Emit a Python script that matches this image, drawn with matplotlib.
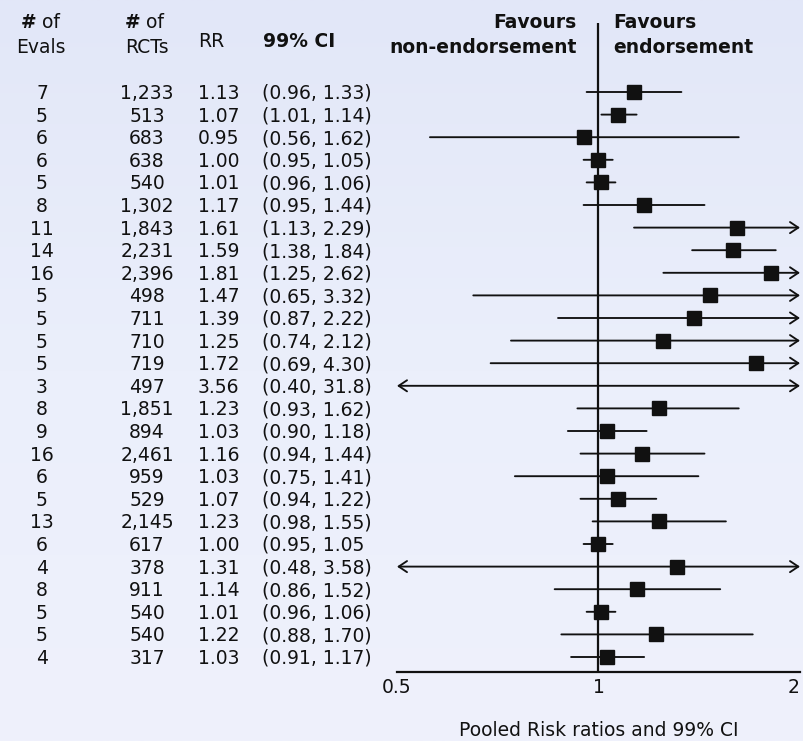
import numpy as np
import matplotlib
matplotlib.use('Agg')
import matplotlib.pyplot as plt
from matplotlib import transforms
from matplotlib.colors import LinearSegmentedColormap
from matplotlib.ticker import NullLocator

# one row per pooled comparison, top to bottom
evals = [7, 5, 6, 6, 5, 8, 11, 14, 16, 5, 5, 5, 5, 3, 8, 9, 16, 6, 5, 13, 6, 4, 8, 5, 5, 4]
rcts = [1233, 513, 683, 638, 540, 1302, 1843, 2231, 2396, 498, 711, 710, 719, 497,
        1851, 894, 2461, 959, 529, 2145, 617, 378, 911, 540, 540, 317]
rr = [1.13, 1.07, 0.95, 1.00, 1.01, 1.17, 1.61, 1.59, 1.81, 1.47, 1.39, 1.25, 1.72, 3.56,
      1.23, 1.03, 1.16, 1.03, 1.07, 1.23, 1.00, 1.31, 1.14, 1.01, 1.22, 1.03]
ci_lo = [0.96, 1.01, 0.56, 0.95, 0.96, 0.95, 1.13, 1.38, 1.25, 0.65, 0.87, 0.74, 0.69, 0.40,
         0.93, 0.90, 0.94, 0.75, 0.94, 0.98, 0.95, 0.48, 0.86, 0.96, 0.88, 0.91]
ci_hi = [1.33, 1.14, 1.62, 1.05, 1.06, 1.44, 2.29, 1.84, 2.62, 3.32, 2.22, 2.12, 4.30, 31.8,
         1.62, 1.18, 1.44, 1.41, 1.22, 1.55, 1.05, 3.58, 1.52, 1.06, 1.70, 1.17]
x_ticks = [0.5, 1, 2]
x_tick_labels = ['0.5', '1', '2']

X_MIN, X_MAX = 0.5, 2
ink = '#111111'
fs = 13.5


def fmt(v):
    return f'{v:.2f}' if v < 10 else f'{v:.1f}'


ci_labels = [f'({fmt(a)}, {fmt(b)})' for a, b in zip(ci_lo, ci_hi)]
ci_labels[20] = ci_labels[20].rstrip(')')  # the source leaves this one open

W, H = 804, 741
fig = plt.figure(figsize=(W / 100, H / 100), dpi=100)

# pale blue gradient background
bg = fig.add_axes([0, 0, 1, 1])
bg_cmap = LinearSegmentedColormap.from_list('bg', ['#e2e7f8', '#ebeffb', '#eff1fc'])
bg.imshow(np.linspace(0, 1, 256).reshape(-1, 1), aspect='auto', cmap=bg_cmap, extent=(0, 1, 0, 1))
bg.set_axis_off()

# forest plot area
row_h = 22.6
ax = fig.add_axes([397 / W, 1 - 672 / H, 403 / W, 649 / H])
ax.set_facecolor('none')
ax.set_xscale('log')
ax.set_xlim(X_MIN, X_MAX)
ax.set_ylim(len(rr) - 1 + 15 / row_h, -69 / row_h)

for i, (lo, hi) in enumerate(zip(ci_lo, ci_hi)):
    a, b = max(lo, X_MIN), min(hi, X_MAX)
    head = {(False, False): '-', (True, False): '<-', (False, True): '->', (True, True): '<->'}[(lo < X_MIN, hi > X_MAX)]
    style = head if head == '-' else head + ',head_length=0.6,head_width=0.4'
    ax.annotate('', xy=(b, i), xytext=(a, i),
                arrowprops=dict(arrowstyle=style, lw=1.35, color=ink, shrinkA=0, shrinkB=0,
                                mutation_scale=10),
                annotation_clip=False)

ax.plot(rr, range(len(rr)), 's', ms=9.5, color=ink, zorder=3)
ax.axvline(1, color=ink, lw=1.6, zorder=2)

for side in ['top', 'left', 'right']:
    ax.spines[side].set_visible(False)
ax.spines['bottom'].set_linewidth(1.6)
ax.spines['bottom'].set_color(ink)
ax.set_xticks(x_ticks)
ax.set_xticklabels(x_tick_labels)
ax.xaxis.set_minor_locator(NullLocator())
ax.tick_params(axis='x', length=0, pad=4, labelsize=fs, labelcolor=ink)
ax.get_xticklabels()[-1].set_ha('right')
ax.set_yticks([])
ax.set_xlabel('Pooled Risk ratios and 99% CI', fontsize=fs, color=ink, va='baseline')
ax.xaxis.set_label_coords(0.5, -64 / 649)

# text columns, row positions come from the forest axes
row_tr = transforms.offset_copy(transforms.blended_transform_factory(fig.transFigure, ax.transData),
                                fig=fig, y=-7, units='dots')
for i in range(len(rr)):
    ax.text(42 / W, i, str(evals[i]), transform=row_tr, ha='center', va='baseline', fontsize=fs, color=ink)
    ax.text(147 / W, i, f'{rcts[i]:,}', transform=row_tr, ha='center', va='baseline', fontsize=fs, color=ink)
    ax.text(198 / W, i, f'{rr[i]:.2f}', transform=row_tr, ha='left', va='baseline', fontsize=fs, color=ink)
    ax.text(262 / W, i, ci_labels[i], transform=row_tr, ha='left', va='baseline', fontsize=fs, color=ink)


def fy(px):
    return 1 - px / H


# headers
for split in [36, 140]:
    fig.text(split / W, fy(28), '#', ha='right', va='baseline', fontsize=fs, weight='bold', color=ink)
    fig.text(split / W, fy(28), ' of', ha='left', va='baseline', fontsize=fs, color=ink)
fig.text(41 / W, fy(53), 'Evals', ha='center', va='baseline', fontsize=fs, color=ink)
fig.text(147 / W, fy(53), 'RCTs', ha='center', va='baseline', fontsize=fs, color=ink)
fig.text(198 / W, fy(47), 'RR', ha='left', va='baseline', fontsize=fs, color=ink)
fig.text(263 / W, fy(47), '99% CI', ha='left', va='baseline', fontsize=fs, weight='bold', color=ink)

fig.text(577 / W, fy(28), 'Favours', ha='right', va='baseline', fontsize=fs, weight='bold', color=ink)
fig.text(577 / W, fy(53), 'non-endorsement', ha='right', va='baseline', fontsize=fs, weight='bold', color=ink)
fig.text(613 / W, fy(28), 'Favours', ha='left', va='baseline', fontsize=fs, weight='bold', color=ink)
fig.text(613 / W, fy(53), 'endorsement', ha='left', va='baseline', fontsize=fs, weight='bold', color=ink)

fig.savefig('out.png', dpi=100)
